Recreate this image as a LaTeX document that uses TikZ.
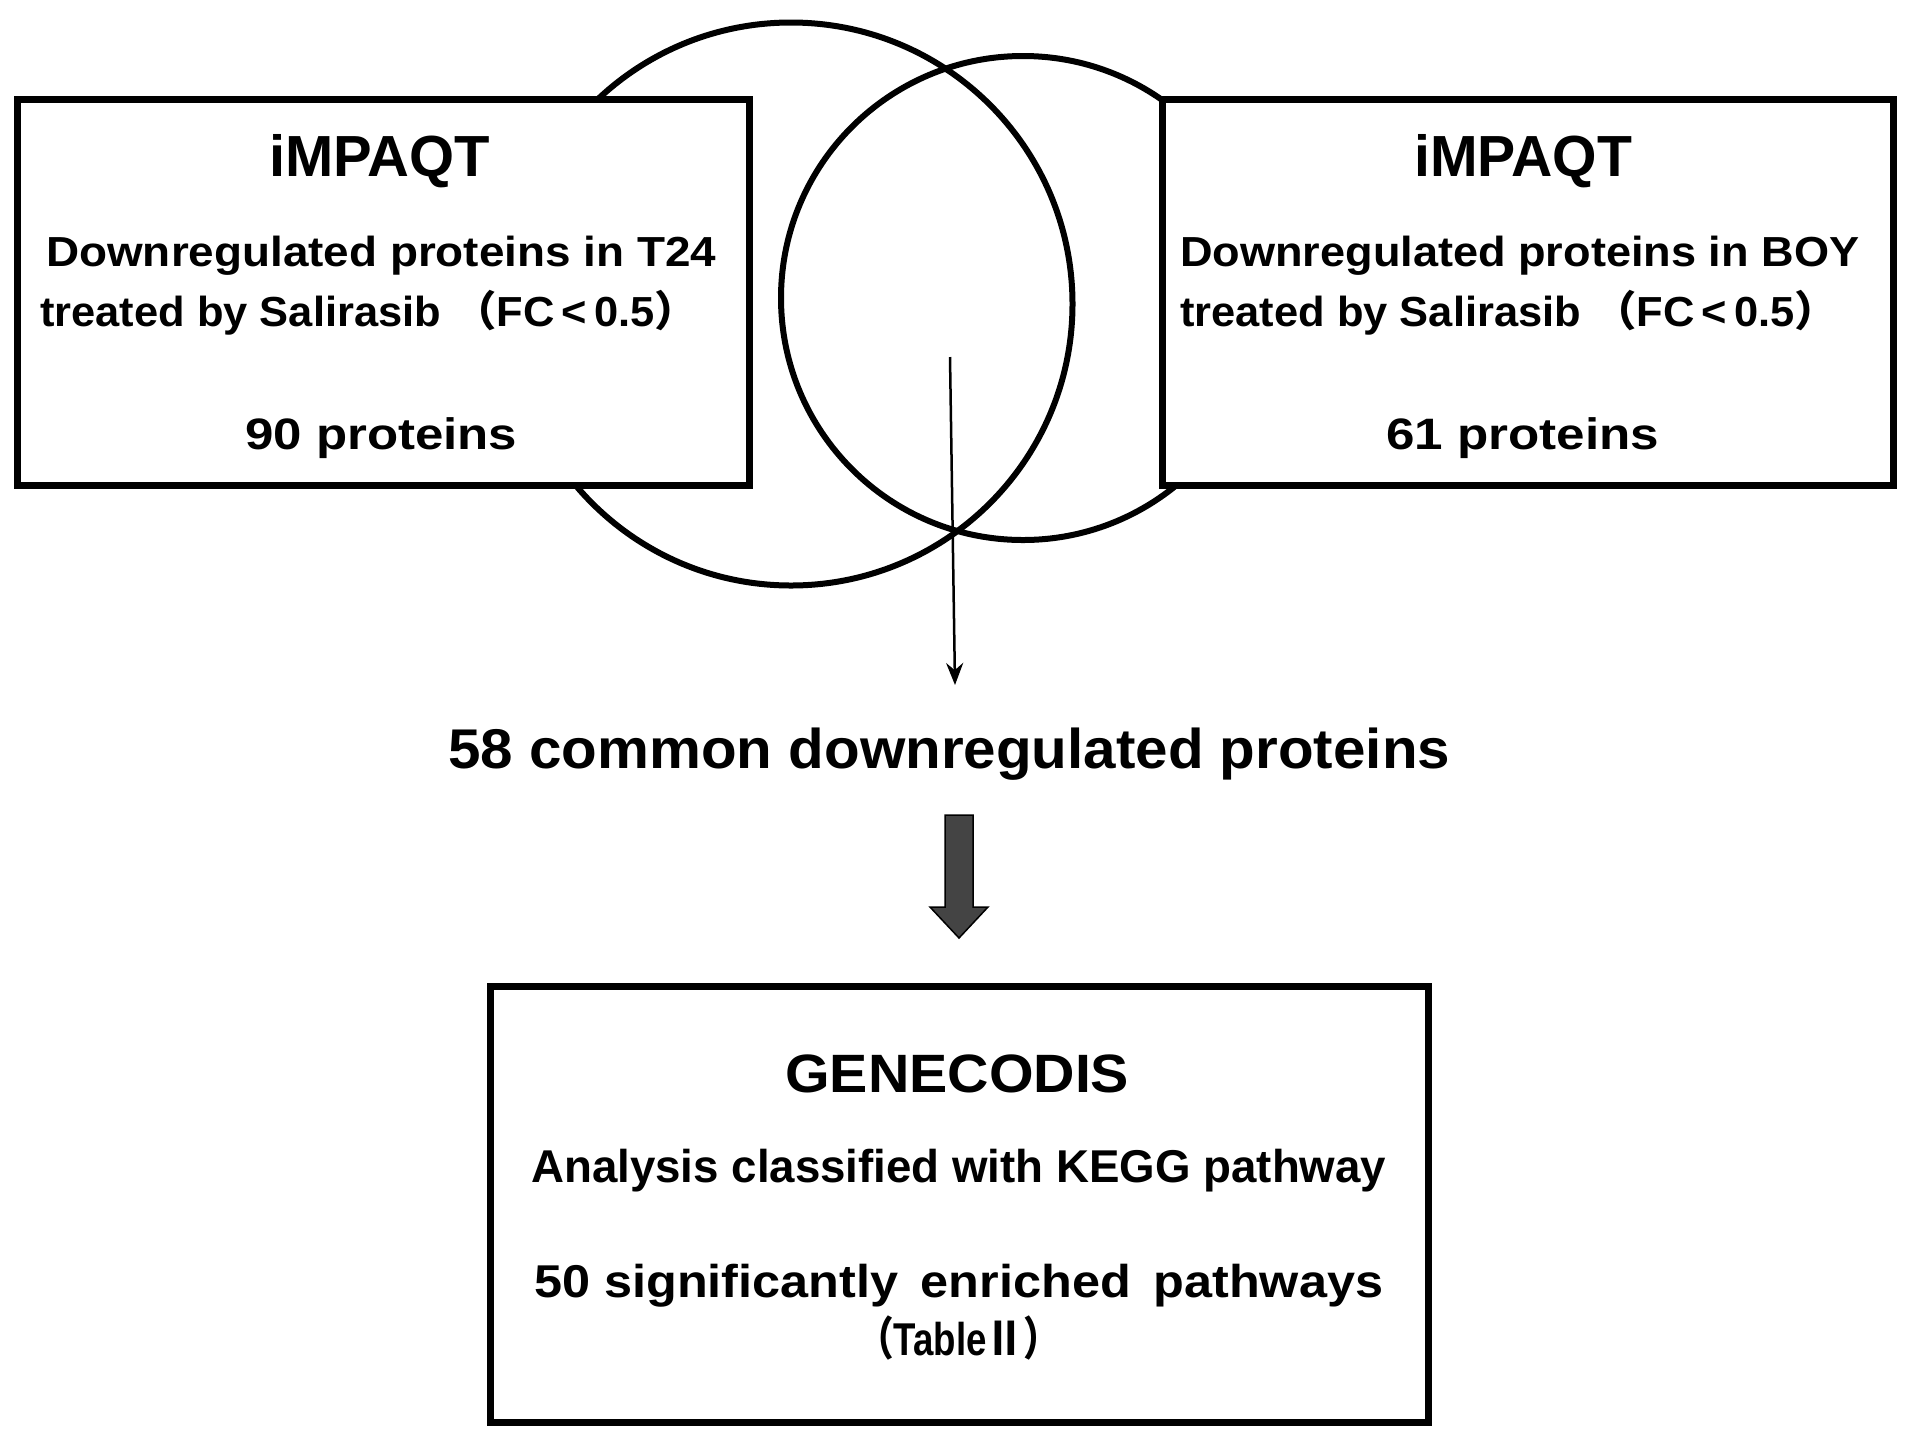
\documentclass[tikz,border=0pt]{standalone}
\usepackage{graphicx}
\usepackage{fontspec}
\setmainfont{Liberation Sans}
\newfontfamily\cjkf{Noto Sans CJK JP}
\usetikzlibrary{arrows.meta}
\definecolor{arrowgray}{RGB}{68,68,68}
\newlength\fitlen
\newcommand\fitto[2]{\settowidth\fitlen{#2}\pgfmathsetmacro\fitsx{#1/\fitlen}\scalebox{\fitsx}[1]{#2}}
\newcommand\fs[1]{\fontsize{#1}{#1}\selectfont}
\begin{document}
\begin{tikzpicture}[x=1pt,y=-1pt,
  boxst/.style={draw, line width=7pt, fill=white, inner sep=0pt},
  ring/.style={draw, circle, line width=6pt, inner sep=0pt},
  tx/.style={anchor=base west, inner sep=0pt, font=\bfseries},
]
\fill[white] (0,0) rectangle (1913,1444);
\useasboundingbox (0,0) rectangle (1913,1444);
% Venn circles
\node[ring, minimum size=563pt] (cL) at (791,304) {};
\node[ring, minimum size=484pt] (cR) at (1023,298) {};
% boxes
\node[boxst, minimum width=732pt, minimum height=386pt] (bL) at (383,292) {};
\node[boxst, minimum width=731pt, minimum height=386pt] (bR) at (1527.5,292) {};
\node[boxst, minimum width=938pt, minimum height=436pt] (bB) at (959,1204) {};
% left box text
\node[tx] (l1) at (269,176) {\fs{58}\fitto{221}{iMPAQT}};
\node[tx] (l2) at (46,266) {\fs{42}\fitto{670}{Downregulated proteins in T24}};
\node[tx] (l3) at (40,326) {\fs{42}\fitto{658}{treated by Salirasib {\cjkf （}FC\,<\,0.5{\cjkf ）}}};
\node[tx] (l4) at (245,449) {\fs{44}\fitto{272}{90 proteins}};
% right box text
\node[tx] (r1) at (1414,176) {\fs{58}\fitto{218}{iMPAQT}};
\node[tx] (r2) at (1180,266) {\fs{42}\fitto{679}{Downregulated proteins in BOY}};
\node[tx] (r3) at (1180,326) {\fs{42}\fitto{658}{treated by Salirasib {\cjkf （}FC\,<\,0.5{\cjkf ）}}};
\node[tx] (r4) at (1386,449) {\fs{44}\fitto{273}{61 proteins}};
% middle
\node[tx] (common) at (448,768) {\fs{56}\fitto{1002}{58 common downregulated proteins}};
% bottom box text
\node[tx] (b1) at (785,1092) {\fs{54}\fitto{344}{GENECODIS}};
\node[tx] (b2) at (531,1182) {\fs{46}\fitto{855}{Analysis classified with KEGG pathway}};
\node[tx] (b3) at (534,1297) {\fs{46}\fitto{849}{50 significantly\hspace{0.45em}enriched\hspace{0.45em}pathways}};
\node[tx] (b4) at (857,1355) {\fs{46}\fitto{203}{{\cjkf （}Table{\cjkf Ⅱ）}}};
% thin arrow
\coordinate (aS) at (950,357);
\coordinate (aE) at (955,685);
\draw[line width=2.5pt, -{Stealth[length=22pt,width=17pt]}] (aS) -- (aE);
% thick arrow
\filldraw[fill=arrowgray, draw=black, line width=1.5pt, line join=miter]
  (945,815) -- (973,815) -- (973,907) -- (988,907) -- (959,938) -- (930,907) -- (945,907) -- cycle;
\end{tikzpicture}
\end{document}
